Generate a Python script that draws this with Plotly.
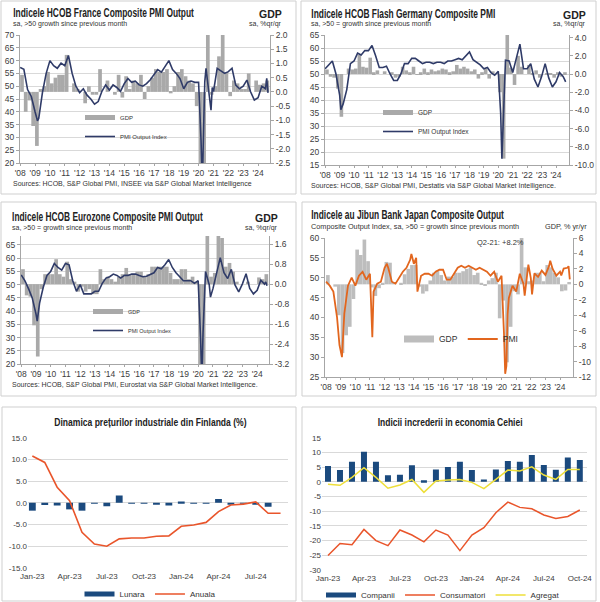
import json
import plotly.graph_objects as go
import pandas as pd

# ---------------- DATA ----------------
# Quarterly GDP (%q/q or %y/y), 2008Q1 .. 2024Q3
fr_gdp = [0.6, -0.7, -0.3, -1.2, -1.9, 0.1, 0.2, 0.7, 0.3, 0.5, 0.6, 0.6, 1.3, 0.0, 0.3, 0.1,
          0.0, -0.4, 0.2, -0.1, -0.1, 0.8, 0.0, 0.4, 0.0, -0.1, 0.6, -0.2, 0.55, 0.1, 0.4, 0.3,
          0.6, -0.25, 0.2, 0.5, 0.8, 0.7, 0.7, 0.8, -0.05, 0.2, 0.7, 0.8, 0.55, 0.4, 0.3, -0.5,
          -5.5, -13.5, 18.0, -0.1, 0.2, 1.25, 3.0, 0.7, -0.15, 0.4, 0.3, 0.1, 0.1, 0.65, 0.0, 0.4,
          0.25, 0.3, 0.4]
de_gdp = [0.5, -0.3, -0.4, -1.6, -4.7, 0.0, 0.6, 0.5, 0.6, 2.1, 0.8, 0.7, 1.8, 0.2, 0.4, 0.0,
          0.3, 0.0, 0.2, -0.4, -0.3, 0.8, 0.4, 0.2, 0.8, -0.1, 0.2, 0.6, 0.2, 0.5, 0.3, 0.4,
          0.6, 0.5, 0.2, 0.3, 1.0, 0.6, 0.8, 0.6, 0.3, 0.5, -0.5, 0.2, 0.6, -0.5, 0.3, 0.0,
          -2.0, -9.3, 8.7, 0.7, -1.2, 2.0, 0.8, 0.0, 1.0, 0.1, 0.4, -0.4, 0.0, 0.1, 0.1, -0.4,
          0.2, -0.3, 0.2]
ez_gdp = [0.6, -0.45, -0.5, -1.65, -2.9, -0.2, 0.4, 0.4, 0.4, 1.0, 0.4, 0.3, 0.9, 0.2, 0.1, -0.3,
          -0.1, -0.3, -0.2, -0.4, -0.4, 0.6, 0.2, 0.3, 0.2, 0.1, 0.3, 0.4, 0.65, 0.4, 0.4, 0.5,
          0.5, 0.3, 0.4, 0.7, 0.7, 0.7, 0.7, 0.7, 0.45, 0.2, 0.2, 0.6, 0.6, 0.2, 0.3, 0.1,
          -3.6, -11.5, 12.5, 0.3, 0.45, 2.1, 1.85, 0.7, 0.85, 0.5, 0.1, 0.0, 0.0, 0.1, 0.0, 0.0,
          0.27, 0.2, 0.4]
jp_gdp = [1.2, 0.0, -0.3, -4.0, -8.9, -6.6, -5.5, -1.9, 4.5, 3.8, 5.8, 3.0, -0.4, -1.5, -0.5, 0.2,
          2.9, 2.8, 0.3, 0.0, 0.2, 1.3, 2.0, 2.5, 2.5, -0.3, -1.2, -0.9, 0.5, 1.5, 1.8, 1.2,
          0.5, 1.0, 1.0, 1.5, 1.5, 1.7, 2.0, 2.2, 1.2, 1.5, 0.2, -0.1, 0.5, 0.8, 1.5, -4.4,
          -2.1, -10.1, -5.5, -0.9, -1.3, 8.2, 2.2, 0.4, 0.5, 1.5, 1.5, 0.4, 2.5, 2.2, 1.5, 0.9,
          -0.9, -0.8, 0.3]

# PMI output index: readings at Jan/Apr/Jul/Oct 2008 .. Jul 2024, plus extra monthly readings
fr_pmi_q = [57.3, 56.6, 48.7, 46.0, 40.0, 37.4, 47.5, 55.0, 60.0, 58.0, 57.0, 59.0, 58.0, 62.0, 55.0, 50.0,
            47.5, 49.0, 46.5, 45.0, 43.0, 44.0, 48.0, 50.5, 48.5, 50.5, 49.5, 48.0, 51.0, 53.0, 51.5, 52.0,
            50.5, 50.0, 51.0, 52.5, 54.5, 56.5, 55.5, 57.5, 60.0, 56.5, 55.0, 53.0, 49.0, 51.5, 52.0, 51.5,
            51.5, 11.1, 57.0, 46.0, 47.9, 57.0, 56.0, 55.0, 55.7, 57.0, 50.4, 49.0, 50.0, 52.4, 47.8, 44.6,
            45.5, 50.0, 49.0]
fr_pmi_extra_dates = ["2009-03-01", "2020-03-01", "2020-05-01", "2020-06-01", "2020-11-01", "2020-12-01",
                      "2024-08-01", "2024-09-01"]
fr_pmi_extra_vals = [36.5, 28.9, 32.1, 51.7, 40.6, 49.5, 53.1, 47.4]

de_pmi_q = [52.0, 53.5, 55.0, 50.0, 42.0, 38.5, 44.0, 54.0, 55.0, 58.0, 57.3, 59.0, 59.0, 61.0, 57.0, 52.5,
            52.5, 53.0, 50.0, 47.5, 47.5, 50.0, 54.0, 54.0, 56.0, 56.0, 55.0, 54.0, 54.5, 54.5, 54.0, 54.5,
            54.5, 54.0, 55.0, 55.0, 55.5, 56.0, 55.5, 57.0, 58.5, 55.5, 54.5, 53.5, 52.0, 52.5, 50.5, 49.5,
            51.0, 17.4, 55.3, 55.0, 50.6, 56.0, 61.5, 52.0, 52.0, 54.0, 48.0, 45.0, 49.0, 54.0, 48.5, 45.0,
            47.0, 50.6, 49.0]
de_pmi_extra_dates = ["2009-02-01", "2020-03-01", "2020-05-01", "2020-06-01", "2024-08-01", "2024-09-01"]
de_pmi_extra_vals = [36.3, 35.0, 32.3, 47.0, 48.0, 47.0]

ez_pmi_q = [53.7, 51.5, 48.5, 45.0, 39.0, 43.0, 49.0, 53.5, 55.0, 58.0, 56.5, 55.5, 58.0, 57.5, 51.5, 47.5,
            50.0, 46.5, 46.5, 46.5, 47.5, 47.5, 50.5, 52.5, 53.0, 54.0, 53.5, 52.5, 53.5, 53.5, 54.0, 54.0,
            53.5, 53.0, 53.2, 54.0, 54.5, 56.5, 56.0, 57.5, 59.5, 56.5, 54.5, 53.0, 51.5, 51.5, 51.5, 50.5,
            51.5, 13.6, 55.0, 50.0, 48.5, 53.8, 60.2, 54.5, 52.3, 55.8, 49.9, 47.3, 50.3, 54.1, 48.6, 46.5,
            47.9, 51.7, 50.2]
ez_pmi_extra_dates = ["2009-02-01", "2020-03-01", "2020-05-01", "2020-06-01", "2020-11-01",
                      "2024-08-01", "2024-09-01"]
ez_pmi_extra_vals = [36.2, 29.7, 31.9, 48.5, 45.3, 51.0, 49.6]

jp_pmi_q = [49.0, 48.0, 46.5, 40.0, 31.5, 41.0, 48.0, 50.0, 48.0, 50.5, 51.5, 49.5, 51.0, 46.5, 48.5, 49.0,
            52.5, 52.5, 49.0, 48.5, 50.0, 51.5, 52.5, 54.5, 53.5, 46.5, 50.5, 51.0, 51.0, 50.5, 51.5, 52.0,
            52.0, 49.5, 49.5, 51.0, 52.5, 53.0, 52.5, 53.0, 52.5, 52.0, 52.5, 52.0, 51.5, 50.5, 51.5, 49.0,
            50.5, 25.8, 44.9, 48.0, 46.5, 51.0, 48.5, 50.7, 49.9, 51.1, 50.2, 51.8, 50.7, 52.9, 52.2, 50.5,
            51.5, 52.3, 52.5]
jp_pmi_extra_dates = ["2008-12-01", "2009-02-01", "2011-03-01", "2012-03-01", "2013-11-01", "2014-03-01",
                      "2020-03-01", "2020-05-01", "2020-06-01", "2021-08-01", "2021-11-01", "2022-02-01",
                      "2023-05-01", "2024-02-01", "2024-08-01", "2024-09-01"]
jp_pmi_extra_vals = [33.0, 30.0, 35.0, 53.5, 56.0, 55.0, 36.2, 27.8, 40.8, 45.5, 53.3, 45.8,
                     54.3, 50.6, 52.9, 49.6]

year_labels = ["'08", "'09", "'10", "'11", "'12", "'13", "'14", "'15", "'16", "'17", "'18",
               "'19", "'20", "'21", "'22", "'23", "'24"]

# Finland producer prices (%)
fi_months = ["Jan-23", "Feb-23", "Mar-23", "Apr-23", "May-23", "Jun-23", "Jul-23", "Aug-23", "Sep-23",
             "Oct-23", "Nov-23", "Dec-23", "Jan-24", "Feb-24", "Mar-24", "Apr-24", "May-24", "Jun-24",
             "Jul-24", "Aug-24", "Sep-24"]
fi_lunara = [-1.8, -0.5, -0.6, -1.5, -1.8, -0.15, -0.8, 1.7, -0.1, -0.1, -0.4, -0.6, 0.3, -0.1,
             -0.05, 0.9, -0.3, -0.1, -0.3, -0.9, 0.0]
fi_anuala = [10.8, 9.3, 3.6, 0.5, -6.8, -9.5, -10.0, -8.3, -8.1, -8.1, -7.7, -7.6, -5.4, -5.1,
             -4.5, -2.0, -0.5, -0.3, 0.2, -2.4, -2.4]
fi_ticks = ["Jan-23", "Apr-23", "Jul-23", "Oct-23", "Jan-24", "Apr-24", "Jul-24"]

# Czech confidence indicators
cz_months = fi_months + ["Oct-24"]
cz_companii = [5.4, 4.0, 6.8, 10.2, 6.8, 2.2, 2.4, 5.6, 0.5, 4.2, 5.0, 6.8, 4.0, 0.8, 4.2, 7.1,
               6.8, 9.1, 5.7, 4.1, 8.3, 7.4]
cz_consumatori = [-25.1, -21.0, -21.4, -16.2, -20.0, -21.7, -16.4, -18.1, -20.4, -16.4, -18.1, -23.4,
                  -18.1, -15.6, -10.5, -6.9, -8.7, -9.2, -11.3, -12.5, -11.8, -9.6]
cz_agregat = [-0.8, -1.2, 1.5, 4.8, 1.5, -2.2, -1.1, 0.8, -3.6, 0.3, 0.6, 0.8, -0.2, -2.3, 0.8, 4.0,
              3.7, 5.1, 2.3, 0.8, 4.2, 4.2]
cz_ticks = ["Jan-23", "Apr-23", "Jul-23", "Oct-23", "Jan-24", "Apr-24", "Jul-24", "Oct-24"]

# ---------------- HELPERS ----------------
W, H = 600, 602
def px(x): return x / W
def py(y): return 1 - y / H

SANS = "Liberation Sans, Arial, sans-serif"
QW = 91 * 86400000

def qdates(n):
    return pd.date_range("2008-01-01", periods=n, freq="QS")

def pmi_series(base, ex_d, ex_v):
    s = pd.Series(base, index=qdates(len(base)))
    e = pd.Series(ex_v, index=pd.to_datetime(ex_d))
    s = pd.concat([s[~s.index.isin(e.index)], e]).sort_index()
    return [d.strftime("%Y-%m-%d") for d in s.index], [float(v) for v in s.values]

def gdp_x(n):
    return [(d + pd.Timedelta(days=45)).strftime("%Y-%m-%d") for d in qdates(n)]

def fmt(v, f):
    return f % v

year_ticks = [f"{2008 + i}-01-01" for i in range(len(year_labels))]

fig = go.Figure()
layout = {}
GRID = "#D9D9D9"
AX = "#A6A6A6"
TXT = "#404040"
TF = 8.5

def top_panel(i, xdom, ydom, xrange, lrange, ltickv, rrange, rtickv, rfmt, gdp, pmi,
              bar_color, line_color, line_w, gdp_name, pmi_name, leg, grid=True, sym_w=5):
    xa = "x" if i == 1 else f"x{i}"
    yb = "y" if i == 1 else f"y{2 * i - 1}"
    yo = f"y{2 * i}"
    xkey = "xaxis" if i == 1 else f"xaxis{i}"
    ybkey = "yaxis" if i == 1 else f"yaxis{2 * i - 1}"
    yokey = f"yaxis{2 * i}"
    fig.add_trace(go.Bar(x=gdp_x(len(gdp)), y=gdp, width=QW, marker=dict(color=bar_color, line=dict(width=0)),
                         name=gdp_name, xaxis=xa, yaxis=yb, showlegend=False))
    # legend key for the GDP bars (no data drawn)
    fig.add_trace(go.Scatter(x=[None], y=[None], mode="lines", line=dict(color=bar_color, width=sym_w),
                             name=gdp_name, xaxis=xa, yaxis=yb, legend=leg))
    d, v = pmi
    fig.add_trace(go.Scatter(x=d, y=v, mode="lines", line=dict(color=line_color, width=line_w),
                             name=pmi_name, xaxis=xa, yaxis=yo, legend=leg))
    layout[xkey] = dict(domain=[px(xdom[0]), px(xdom[1])], anchor=yb, type="date", range=xrange,
                        tickvals=year_ticks, ticktext=year_labels, showgrid=False, showline=True,
                        linecolor=AX, ticks="outside", ticklen=2, tickcolor=AX, zeroline=False,
                        tickfont=dict(size=TF, color=TXT), automargin=False)
    layout[ybkey] = dict(domain=[py(ydom[1]), py(ydom[0])], anchor=xa, side="right", range=rrange,
                         tickvals=rtickv, ticktext=[fmt(t, rfmt) for t in rtickv], showgrid=False,
                         showline=True, linecolor=AX, ticks="outside", ticklen=3, tickcolor=AX,
                         zeroline=False, tickfont=dict(size=TF, color=TXT), automargin=False)
    layout[yokey] = dict(overlaying=yb, anchor=xa, side="left", range=lrange, tickvals=ltickv,
                         showgrid=grid, gridcolor=GRID, showline=True, linecolor=AX, ticks="outside",
                         ticklen=3, tickcolor=AX, zeroline=False, tickfont=dict(size=TF, color=TXT),
                         automargin=False)

NAVY = "#2F3B68"
GRAY = "#A9A9A9"

top_panel(1, (20, 270), (35, 163), ["2007-12-28", "2024-10-20"], [20, 70], list(range(20, 71, 5)),
          [-2.5, 2.0], [-2.5, -2.0, -1.5, -1.0, -0.5, 0.0, 0.5, 1.0, 1.5, 2.0], "%.1f", fr_gdp,
          pmi_series(fr_pmi_q, fr_pmi_extra_dates, fr_pmi_extra_vals), GRAY, NAVY, 1.6,
          "GDP", "PMI Output Index", "legend")
top_panel(2, (325, 569), (35, 165), ["2007-12-28", "2024-11-25"], [15, 65], list(range(15, 66, 5)),
          [-10, 4.29], [-10, -8, -6, -4, -2, 0, 2, 4], "%.1f", de_gdp,
          pmi_series(de_pmi_q, de_pmi_extra_dates, de_pmi_extra_vals), GRAY, NAVY, 1.6,
          "GDP", "PMI Output Index", "legend2")
top_panel(3, (21, 269), (236, 364), ["2007-12-28", "2024-10-20"], [20, 68.4], list(range(20, 66, 5)),
          [-3.2, 1.93], [-3.2, -2.4, -1.6, -0.8, 0.0, 0.8, 1.6], "%.1f", ez_gdp,
          pmi_series(ez_pmi_q, ez_pmi_extra_dates, ez_pmi_extra_vals), GRAY, NAVY, 1.6,
          "GDP", "PMI Output Index", "legend3")
top_panel(4, (325, 573), (238, 377), ["2007-12-05", "2024-11-20"], [25, 60], list(range(25, 61, 5)),
          [-12, 6], list(range(-12, 7, 2)), "%d", jp_gdp,
          pmi_series(jp_pmi_q, jp_pmi_extra_dates, jp_pmi_extra_vals), "#BDBDBD", "#E2661E", 1.8,
          "GDP", "PMI", "legend4", grid=False, sym_w=7)

# Finland
BLUE = "#1B4A7E"
RED = "#E9552B"
fig.add_trace(go.Bar(x=fi_months, y=fi_lunara, width=0.55, marker=dict(color=BLUE, line=dict(width=0)),
                     name="Lunara", xaxis="x5", yaxis="y9", showlegend=False))
fig.add_trace(go.Scatter(x=[None], y=[None], mode="lines", line=dict(color=BLUE, width=5),
                         name="Lunara", xaxis="x5", yaxis="y9", legend="legend5"))
fig.add_trace(go.Scatter(x=fi_months, y=fi_anuala, mode="lines", line=dict(color=RED, width=1.6),
                         name="Anuala", xaxis="x5", yaxis="y9", legend="legend5"))
layout["xaxis5"] = dict(domain=[px(28), px(288)], anchor="y9", type="category", range=[-0.35, 20.6],
                        tickvals=fi_ticks, ticktext=fi_ticks, showgrid=False, showline=False,
                        zeroline=False, ticks="", ticklabelstandoff=2,
                        tickfont=dict(size=8, color=TXT), automargin=False)
layout["yaxis9"] = dict(domain=[py(568), py(437.7)], anchor="x5", range=[-15, 15],
                        tickvals=list(range(-15, 16, 5)),
                        ticktext=[fmt(t, "%.1f") for t in range(-15, 16, 5)],
                        showgrid=True, gridcolor=GRID, showline=False, zeroline=False,
                        ticks="", tickfont=dict(size=8, color=TXT), automargin=False)

# Czech
YEL = "#EEDF3A"
fig.add_trace(go.Bar(x=cz_months, y=cz_companii, width=0.5, marker=dict(color=BLUE, line=dict(width=0)),
                     name="Companii", xaxis="x6", yaxis="y10", showlegend=False))
fig.add_trace(go.Scatter(x=[None], y=[None], mode="lines", line=dict(color=BLUE, width=5),
                         name="Companii", xaxis="x6", yaxis="y10", legend="legend6"))
fig.add_trace(go.Scatter(x=cz_months, y=cz_consumatori, mode="lines", line=dict(color=RED, width=1.5),
                         name="Consumatori", xaxis="x6", yaxis="y10", legend="legend6"))
fig.add_trace(go.Scatter(x=cz_months, y=cz_agregat, mode="lines", line=dict(color=YEL, width=1.5),
                         name="Agregat", xaxis="x6", yaxis="y10", legend="legend6"))
layout["xaxis6"] = dict(domain=[px(322), px(587)], anchor="y10", type="category", range=[-0.5, 21.6],
                        tickvals=cz_ticks, ticktext=cz_ticks, showgrid=False, showline=False,
                        zeroline=False, ticks="", ticklabelstandoff=2,
                        tickfont=dict(size=8, color=TXT), automargin=False)
layout["yaxis10"] = dict(domain=[py(570), py(437.7)], anchor="x6", range=[-30, 15],
                         tickvals=list(range(-30, 16, 5)),
                         ticktext=[fmt(t, "%d") for t in range(-30, 16, 5)],
                         showgrid=True, gridcolor=GRID, showline=False, zeroline=False,
                         ticks="", tickfont=dict(size=8, color=TXT), automargin=False)

# ---------------- TEXT ----------------
anns = []
fit_targets = {}
def ann(text, x, y, size, bold=False, xanchor="left", color="#222222", fit=None):
    if fit:
        fit_targets[text] = [fit, xanchor]
    t = f"<b>{text}</b>" if bold else text
    anns.append(dict(text=t, x=px(x), y=py(y), xref="paper", yref="paper", xanchor=xanchor,
                     yanchor="middle", showarrow=False, font=dict(size=size, family=SANS, color=color)))

ann("Indicele HCOB France Composite PMI Output", 11, 13, 12.5, True, fit=181)
ann("sa, >50 growth since previous month", 11, 23.5, 7, color="#333333")
ann("GDP", 284, 14, 10.5, True, "right")
ann("sa, %qr/qr", 284, 24, 7, xanchor="right", color="#333333")
ann("Sources: HCOB, S&P Global PMI, INSEE via S&P Global Market Intelligence", 11, 184, 7, color="#333333")

ann("Indicele HCOB Flash Germany Composite PMI", 309, 14, 12.5, True, fit=184)
ann("sa, >50 = growth since previous month", 309, 24, 7, color="#333333")
ann("GDP", 588, 15, 10.5, True, "right")
ann("sa, %qr/qr", 588, 24.5, 7, xanchor="right", color="#333333")
ann("Sources: HCOB, S&P Global PMI, Destatis via S&P Global Market Intelligence.", 309, 186, 7, color="#333333")

ann("Indicele HCOB Eurozone Composite PMI Output", 10, 217, 12.5, True, fit=191)
ann("sa, >50 = growth since previous month", 10, 228, 7, color="#333333")
ann("GDP", 280, 218, 10.5, True, "right")
ann("sa, %qr/qr", 280, 228, 7, xanchor="right", color="#333333")
ann("Sources: HCOB, S&P Global PMI, Eurostat via S&P Global Market Intelligence.", 10, 385, 7, color="#333333")

ann("Indicele au Jibun Bank Japan Composite Output", 309, 215, 12.5, True, fit=193)
ann("Composite Output Index, sa, >50 = growth since previous month", 309, 226, 7.3, color="#333333")
ann("GDP, % yr/yr", 589, 226, 7.3, xanchor="right", color="#333333")
ann("Q2-21: +8.2%", 475, 243, 7.5, color="#333333")

ann("Dinamica prețurilor industriale din Finlanda (%)", 150, 422, 11.5, True, "center", fit=192)
ann("Indicii increderii in economia Cehiei", 450, 422, 11.5, True, "center", fit=145)

# panel frames
BORDER = "#CFCFCF"
frames = [(1, 1, 296, 194), (301, 1, 596, 194), (1, 202, 296, 396), (302, 202, 596, 396),
          (2, 407, 296, 601), (302, 407, 596, 601)]
shapes = [dict(type="rect", xref="paper", yref="paper", x0=px(a), y0=py(d), x1=px(c), y1=py(b),
               line=dict(color=BORDER, width=1), fillcolor="rgba(0,0,0,0)", layer="below")
          for a, b, c, d in frames]

def leg(x, y, size, orient="v", xanchor="left", yanchor="top"):
    return dict(x=px(x), y=py(y), xanchor=xanchor, yanchor=yanchor,
                orientation=orient, bgcolor="rgba(0,0,0,0)", font=dict(size=size, color="#333333"),
                itemwidth=30)

layout["legend"] = leg(80, 103, 6)
layout["legend2"] = leg(378, 98, 6.5)
layout["legend3"] = leg(88, 297, 5.5)
layout["legend4"] = leg(399, 339, 8.5, "h", "left", "middle")
layout["legend5"] = leg(150, 594, 8, "h", "center", "middle")
layout["legend6"] = leg(443, 595, 8, "h", "center", "middle")

fig.update_layout(template="none", width=W, height=H,
                  margin=dict(l=0, r=0, t=0, b=0, autoexpand=False),
                  paper_bgcolor="white", plot_bgcolor="white", showlegend=True,
                  font=dict(family=SANS, size=9, color=TXT), annotations=anns, shapes=shapes,
                  barmode="overlay", **layout)

# page without body margin; condense the bold headings to the width they take in the original
post = """
(function(){
  document.documentElement.style.margin = '0';
  document.body.style.margin = '0';
  document.body.style.padding = '0';
  var targets = %s;
  function fit(){
    var gd = document.getElementById('{plot_id}');
    if(!gd) return;
    gd.querySelectorAll('text.annotation-text').forEach(function(t){
      var key = t.textContent;
      if(!(key in targets)) return;
      var spec = targets[key];
      var bb = t.getBBox();
      if(!bb.width) return;
      var s = spec[0] / bb.width;
      var ax = spec[1] === 'left' ? bb.x : bb.x + bb.width / 2;
      t.setAttribute('transform', 'translate(' + ax + ',0) scale(' + s + ',1) translate(' + (-ax) + ',0)');
    });
  }
  fit();
  setTimeout(fit, 100); setTimeout(fit, 600); setTimeout(fit, 1500);
  var gd0 = document.getElementById('{plot_id}');
  if (gd0 && gd0.on) gd0.on('plotly_afterplot', function(){ setTimeout(fit, 0); });
})();
""" % json.dumps(fit_targets)

fig.write_html("out.html", post_script=post, config={"displayModeBar": False})
